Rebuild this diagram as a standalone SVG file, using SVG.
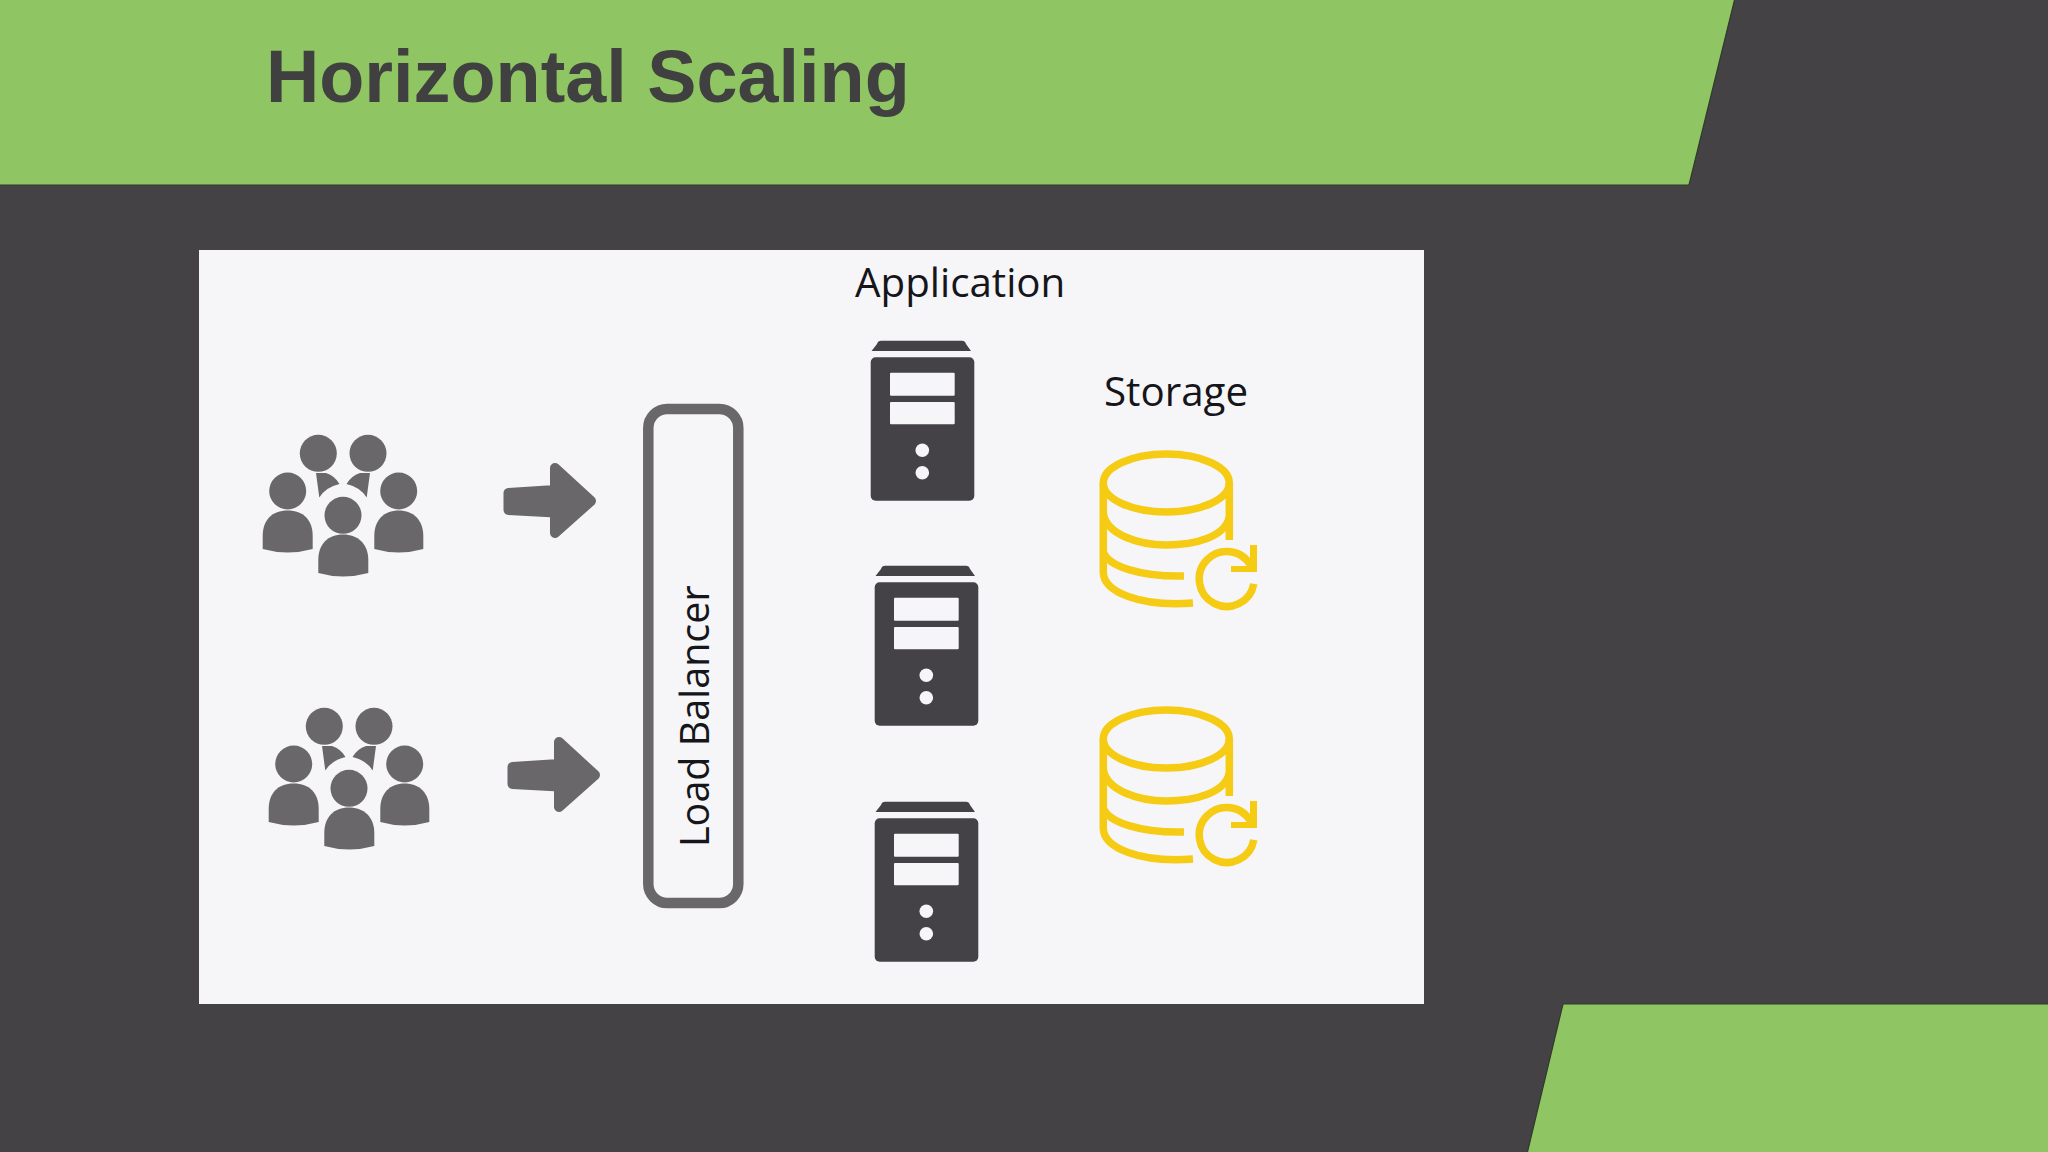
<svg xmlns="http://www.w3.org/2000/svg" width="2048" height="1152" viewBox="0 0 2048 1152">
<style>
.green{fill:#8fc663;stroke:#2f3a2c;stroke-width:1.2}
.gray{fill:#69676a}
.dark{fill:#444246}
.slot{fill:#f6f5f8}
.lbl{font-family:"Open Sans","Noto Sans",sans-serif;font-size:40.3px;fill:#15151a}
.db{fill:none;stroke:#f5cb14;stroke-width:7.500}
</style>
<defs>
<g id="people" class="gray">
<circle cx="318.300" cy="453.300" r="18.500"/><circle cx="368" cy="453.300" r="18.500"/>
<path d="M316 473L326 473Q335 476 339.500 484Q326 487 319.300 497.500Z"/>
<path d="M370 473L360 473Q351 476 346.500 484Q360 487 366.700 497.500Z"/>
<circle cx="287.700" cy="491" r="18.500"/><circle cx="398.700" cy="491" r="18.500"/><circle cx="343" cy="515.300" r="18.500"/>
<path d="M262.700 536C262.700 520 272 510.500 287.700 510.500S312.700 520 312.700 536V549Q287.700 556 262.700 549Z"/>
<path d="M374.300 536C374.300 520 384 510.500 398.700 510.500S423.300 520 423.300 536V549Q398.700 556 374.300 549Z"/>
<path d="M318.300 560C318.300 544 328 534.500 343 534.500S368.300 544 368.300 560V573Q343 580 318.300 573Z"/>
</g>
<path id="arrow" class="gray" stroke="#69676a" stroke-width="10" stroke-linejoin="round" d="M508.500 493L555 490V468L591 501L555 533V512.500L508.500 510Z"/>
<g id="server">
<path class="dark" d="M877 344Q878 340.700 881 340.700H962Q965 340.700 966 344L971 351H871.500Z"/>
<rect class="dark" x="870.700" y="357.300" width="103.600" height="143.400" rx="5"/>
<rect class="slot" x="890" y="372.700" width="64.700" height="23" rx="1"/>
<rect class="slot" x="890" y="402" width="64.700" height="22.300" rx="1"/>
<circle class="slot" cx="922.300" cy="450.300" r="6.800"/><circle class="slot" cx="922.300" cy="472.700" r="6.800"/>
</g>
<g id="database" class="db">
<ellipse cx="1166.300" cy="483" rx="63" ry="29"/>
<path d="M1229.300 483V540"/>
<path d="M1103.300 483V572C1103.300 592 1140 607 1193 603"/>
<path d="M1103.300 513C1106 535 1140 545 1166 545C1195 545 1225 537 1229.300 517"/>
<path d="M1103.300 552C1108 566 1140 577 1184 576"/>
<path d="M1251 566A27.500 27.500 0 1 0 1253.800 583.800"/>
<path style="fill:#f5cb14;stroke:none" d="M1250 545L1257 545V572H1231V566H1250Z"/>
</g>
</defs>
<rect width="2048" height="1152" fill="#444245"/>
<path class="green" d="M-2-2H1735L1689 185H-2Z"/>
<path class="green" d="M1563 1004H2050V1154H1527Z"/>
<text x="266" y="102" font-family="Liberation Sans, Arial, sans-serif" font-size="73.800" font-weight="700" fill="#404040">Horizontal Scaling</text>
<rect id="panel" x="199" y="250" width="1225" height="754" fill="#f6f5f8"/>
<g id="users-1"><use href="#people"/></g>
<g id="users-2"><use href="#people" x="6" y="273"/></g>
<g id="connectors"><use href="#arrow"/><use href="#arrow" x="4" y="274"/></g>
<g id="load-balancer">
<rect x="648.300" y="409" width="90" height="494" rx="19" fill="none" stroke="#69676a" stroke-width="10.500"/>
<text class="lbl" style="font-size:39.500px" transform="translate(709 847) rotate(-90)">Load Balancer</text>
</g>
<g id="app-label"><text class="lbl" x="855" y="297">Application</text></g>
<g id="server-1"><use href="#server"/></g>
<g id="server-2"><use href="#server" x="4" y="225"/></g>
<g id="server-3"><use href="#server" x="4" y="461"/></g>
<g id="storage-label"><text class="lbl" x="1104" y="406">Storage</text></g>
<g id="db-1"><use href="#database"/></g>
<g id="db-2"><use href="#database" y="256"/></g>
</svg>
